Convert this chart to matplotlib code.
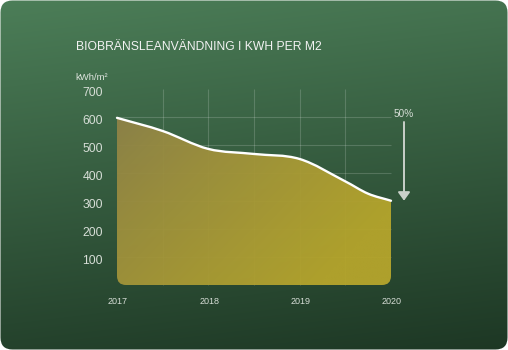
import numpy as np
import matplotlib
matplotlib.use('Agg')
import matplotlib.pyplot as plt
from matplotlib.path import Path
from matplotlib.patches import PathPatch, FancyBboxPatch, FancyArrowPatch

plt.rcParams['font.family'] = ['Liberation Sans', 'DejaVu Sans']

# data
years = [2017.0, 2017.5, 2018.0, 2018.5, 2019.0, 2019.5, 2019.75, 2020.0]
values = [597, 550, 486, 468, 450, 370, 326, 301]
year_ticks = [2017, 2018, 2019, 2020]
y_ticks = [100, 200, 300, 400, 500, 600, 700]
grid_y = [100, 200, 300, 400, 500, 600]
grid_x = [2017.5, 2018.0, 2018.5, 2019.0, 2019.5]
title = 'BIOBRÄNSLEANVÄNDNING I KWH PER M2'
unit = 'kWh/m²'
change_label = '50%'

W, H = 508, 350
fig = plt.figure(figsize=(W / 100, H / 100), dpi=100)
fig.patch.set_facecolor('white')

# background card with gradient
bg = fig.add_axes([0, 0, 1, 1])
bg.set_xlim(0, W)
bg.set_ylim(H, 0)
bg.axis('off')
yy, xx = np.mgrid[0:H, 0:W]
t = (0.85 * yy / H + 0.15 * xx / W)
top = np.array([76, 126, 88]) / 255
bot = np.array([29, 55, 36]) / 255
img = top[None, None, :] * (1 - t[..., None]) + bot[None, None, :] * t[..., None]
card = FancyBboxPatch((0.5, 0.5), W - 1, H - 1, boxstyle='round,pad=0,rounding_size=12',
                      transform=bg.transData, facecolor='none', edgecolor='none')
bg.add_patch(card)
im = bg.imshow(img, extent=(0, W, H, 0), interpolation='bilinear')
im.set_clip_path(card)

# chart axes: 2017 at px 117, 2020 at px 391; 0 at px 285, 700 at px 89
ax = fig.add_axes([0, 0, 1, 1])
ax.patch.set_alpha(0)
ax.axis('off')
px_per_year = (391 - 117) / 3
px_per_val = (285 - 89) / 700
xlim = (2017 - 117 / px_per_year, 2017 + (W - 117) / px_per_year)
ylim = ((285 - H) / px_per_val, 285 / px_per_val)

gc = (1, 1, 1, 0.17)
ax.hlines(grid_y, year_ticks[0], year_ticks[-1], color=gc, lw=0.8, zorder=1)
ax.vlines(grid_x, 0, 700, color=gc, lw=0.8, zorder=1)

# smooth path through the points (Catmull-Rom as bezier)
pts = np.column_stack([years, values]).astype(float)
n = len(pts)
verts = [tuple(pts[0])]
codes = [Path.MOVETO]
for i in range(n - 1):
    p0 = pts[max(i - 1, 0)]
    p1 = pts[i]
    p2 = pts[i + 1]
    p3 = pts[min(i + 2, n - 1)]
    h = p2[0] - p1[0]
    m1 = (p2 - p0) / (p2[0] - p0[0]) * h / 3 if i > 0 else (p2 - p1) / 3
    m2 = (p3 - p1) / (p3[0] - p1[0]) * h / 3 if i < n - 2 else (p2 - p1) / 3
    verts += [tuple(p1 + m1), tuple(p2 - m2), tuple(p2)]
    codes += [Path.CURVE4] * 3
line_path = Path(verts, codes)

rx = 9 / px_per_year
ry = 9 / px_per_val
x0, x1 = years[0], years[-1]
fverts = list(verts) + [(x1, ry), (x1, 0), (x1 - rx, 0), (x0 + rx, 0), (x0, 0), (x0, ry), (x0, ry)]
fcodes = list(codes) + [Path.LINETO, Path.CURVE3, Path.CURVE3, Path.LINETO,
                        Path.CURVE3, Path.CURVE3, Path.CLOSEPOLY]
fill_patch = PathPatch(Path(fverts, fcodes), facecolor='none', edgecolor='none')
ax.add_patch(fill_patch)

gy, gx = np.mgrid[0:100, 0:200]
s = np.clip(0.75 * gx / 199 + 0.45 * gy / 99, 0, 1) ** 0.8
c_a = np.array([140, 128, 74]) / 255
c_b = np.array([181, 165, 44]) / 255
grad = c_a[None, None, :] * (1 - s[..., None]) + c_b[None, None, :] * s[..., None]
fim = ax.imshow(grad, extent=(x0, x1, 0, 620), origin='upper', aspect='auto',
                interpolation='bilinear', alpha=0.96, zorder=2)
fim.set_clip_path(fill_patch)
ax.set_xlim(*xlim)
ax.set_ylim(*ylim)

ax.add_patch(PathPatch(line_path, facecolor='none', edgecolor='white', lw=1.7,
                       capstyle='round', zorder=3))

# tick labels
lab_col = '#d6ddd6'
for v in y_ticks:
    ax.annotate(str(v), (year_ticks[0], v), xytext=(-14, -4), textcoords='offset pixels',
                ha='right', va='center', fontsize=8.8, color=lab_col)
for yr in year_ticks:
    ax.annotate(str(yr), (yr, 0), xytext=(1, -17), textcoords='offset pixels',
                ha='center', va='center', fontsize=6.5, color=lab_col)

# 50% arrow
ax_x = x1 + 13 / px_per_year
arr = FancyArrowPatch((ax_x, values[0]), (ax_x, values[-1]),
                      arrowstyle='-|>,head_length=0.5,head_width=0.36', mutation_scale=10,
                      color='#c9d0c9', lw=1.4, shrinkA=3, shrinkB=0, zorder=4)
ax.add_patch(arr)
ax.annotate(change_label, (ax_x, values[0]), xytext=(0, 4), textcoords='offset pixels',
            ha='center', va='center', fontsize=7.2, color='#d6ddd6')

fig.text(76 / W, 1 - 47 / H, title, ha='left', va='center', fontsize=8.7, color='#f2f2f2')
fig.text(75 / W, 1 - 77 / H, unit, ha='left', va='center', fontsize=6.8, color='#dfe5df')

fig.savefig('out.png', dpi=100, facecolor='white')
